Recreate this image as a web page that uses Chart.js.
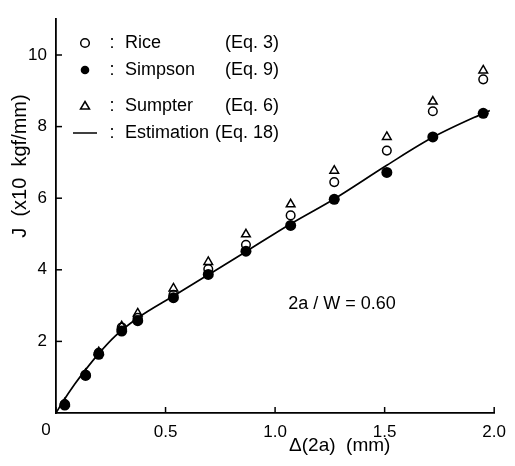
<!DOCTYPE html>
<html>
<head>
<meta charset="utf-8">
<script src="https://cdn.jsdelivr.net/npm/chart.js@4"></script>
<style>
  html, body { margin: 0; padding: 0; background: #fff; }
  #wrap { width: 515px; height: 466px; }
</style>
</head>
<body>
<div id="wrap"><canvas id="chart_1"></canvas></div>
<script>
// crack extension Δ(2a) in mm
const deltaA = [0.04, 0.135, 0.195, 0.30, 0.373, 0.536, 0.695, 0.867, 1.071, 1.27, 1.51, 1.72, 1.95];
const riceJ = [0.25, 1.07, 1.68, 2.39, 2.66, 3.30, 4.02, 4.70, 5.52, 6.45, 7.33, 8.43, 9.32];
const simpsonJ = [0.22, 1.05, 1.64, 2.29, 2.58, 3.22, 3.87, 4.52, 5.24, 5.97, 6.72, 7.71, 8.37];
const sumpterJ = [0.27, 1.09, 1.70, 2.42, 2.78, 3.48, 4.22, 4.99, 5.83, 6.77, 7.71, 8.70, 9.57];

// estimation curve
const estX = [0, 0.03, 0.085, 0.13, 0.195, 0.27, 0.37, 0.54, 0.70, 0.87, 1.07, 1.27, 1.51, 1.72, 1.95, 1.98];
const estJ = [0, 0.30, 0.80, 1.17, 1.66, 2.15, 2.64, 3.28, 3.88, 4.52, 5.28, 5.98, 6.92, 7.70, 8.37, 8.45];

const xTicks = [0, 0.5, 1.0, 1.5, 2.0];
const yTicks = [2, 4, 6, 8, 10];
const eqLabels = ['(Eq. 3)', '(Eq. 9)', '(Eq. 6)', '(Eq. 18)'];

const FONT = '"Liberation Sans", Arial, sans-serif';

function pts(xs, ys) {
    return xs.map((x, i) => ({ x: x, y: ys[i] }));
}

const extras = {
    id: 'extras',
    afterDraw(chart) {
        const c = chart.ctx;
        const xs = chart.scales.x, ys = chart.scales.y;
        const area = chart.chartArea;
        c.save();
        c.strokeStyle = '#000';
        c.fillStyle = '#000';
        c.lineWidth = 1.5;
        // inward tick marks
        xTicks.forEach(v => {
            const px = xs.getPixelForValue(v);
            c.beginPath(); c.moveTo(px, area.bottom); c.lineTo(px, area.bottom - 6); c.stroke();
        });
        yTicks.forEach(v => {
            const py = ys.getPixelForValue(v);
            c.beginPath(); c.moveTo(area.left, py); c.lineTo(area.left + 6, py); c.stroke();
        });

        // the shared origin label sits left of the axis
        c.font = '17px ' + FONT;
        c.textAlign = 'center';
        c.textBaseline = 'top';
        c.fillText('0', area.left - 10, area.bottom + 9);

        // legend
        const rows = [43, 70, 106, 133];
        c.font = '18px ' + FONT;
        c.textBaseline = 'middle';
        chart.data.datasets.forEach((ds, i) => {
            const y = rows[i];
            const sx = 85;
            c.lineWidth = 1.5;
            if (ds.label === 'Estimation') {
                c.beginPath(); c.moveTo(73, y); c.lineTo(97, y); c.stroke();
            } else if (ds.pointStyle === 'triangle') {
                c.beginPath();
                c.moveTo(sx, y - 4.5); c.lineTo(sx + 4.5, y + 3); c.lineTo(sx - 4.5, y + 3); c.closePath();
                c.stroke();
            } else {
                c.beginPath(); c.arc(sx, y, 4.3, 0, Math.PI * 2);
                if (ds.backgroundColor === '#000') c.fill(); else c.stroke();
            }
            c.textAlign = 'center';
            c.fillText(':', 112, y);
            c.textAlign = 'left';
            c.fillText(ds.label, 125, y);
            c.textAlign = 'right';
            c.fillText(eqLabels[i], 279, y);
        });

        // annotation
        c.textAlign = 'left';
        c.fillText('2a / W = 0.60', xs.getPixelForValue(1.06), ys.getPixelForValue(3.05));

        // axis titles
        c.font = '19px ' + FONT;
        c.textAlign = 'center';
        c.fillText('\u0394(2a)  (mm)', xs.getPixelForValue(1.295), area.bottom + 33);
        c.font = '20px ' + FONT;
        c.translate(20, ys.getPixelForValue(6.9));
        c.rotate(-Math.PI / 2);
        c.fillText('J  (x10  kgf/mm)', 0, 0);
        c.restore();
    }
};

const ctx1 = document.getElementById('chart_1').getContext('2d');
const myChart1 = new Chart(ctx1, {
    type: 'scatter',
    data: {
        datasets: [{
            label: 'Rice',
            data: pts(deltaA, riceJ),
            pointStyle: 'circle',
            pointRadius: 4.3,
            borderColor: '#000',
            backgroundColor: 'rgba(0,0,0,0)',
            pointBorderWidth: 1.5,
            order: 2
        }, {
            label: 'Simpson',
            data: pts(deltaA, simpsonJ),
            pointStyle: 'circle',
            pointRadius: 5.5,
            borderColor: '#000',
            backgroundColor: '#000',
            pointBorderWidth: 0,
            order: 1
        }, {
            label: 'Sumpter',
            data: pts(deltaA, sumpterJ),
            pointStyle: 'triangle',
            pointRadius: 5,
            borderColor: '#000',
            backgroundColor: 'rgba(0,0,0,0)',
            pointBorderWidth: 1.5,
            order: 3
        }, {
            label: 'Estimation',
            data: pts(estX, estJ),
            showLine: true,
            pointRadius: 0,
            borderColor: '#000',
            borderWidth: 1.7,
            cubicInterpolationMode: 'monotone',
            order: 4
        }]
    },
    options: {
        responsive: true,
        maintainAspectRatio: false,
        animation: false,
        layout: { padding: { left: 0, right: 14, top: 4, bottom: 0 } },
        plugins: {
            legend: { display: false },
            tooltip: { enabled: false }
        },
        scales: {
            x: {
                type: 'linear',
                min: 0,
                max: 2.0,
                afterBuildTicks: s => { s.ticks = xTicks.map(v => ({ value: v })); },
                afterFit: s => { s.height = 53; },
                grid: { display: false, drawTicks: false },
                border: { display: true, color: '#000', width: 1.8 },
                ticks: {
                    padding: 9,
                    color: '#000',
                    font: { family: FONT, size: 17 },
                    maxRotation: 0,
                    callback: v => (v === 0 ? '' : v.toFixed(1))
                }
            },
            y: {
                type: 'linear',
                min: 0,
                max: 11,
                afterBuildTicks: s => { s.ticks = yTicks.map(v => ({ value: v })); },
                afterFit: s => { s.width = 56; },
                grid: { display: false, drawTicks: false },
                border: { display: true, color: '#000', width: 1.8 },
                ticks: {
                    padding: 9,
                    color: '#000',
                    font: { family: FONT, size: 17 }
                }
            }
        }
    },
    plugins: [extras]
});
</script>
</body>
</html>
